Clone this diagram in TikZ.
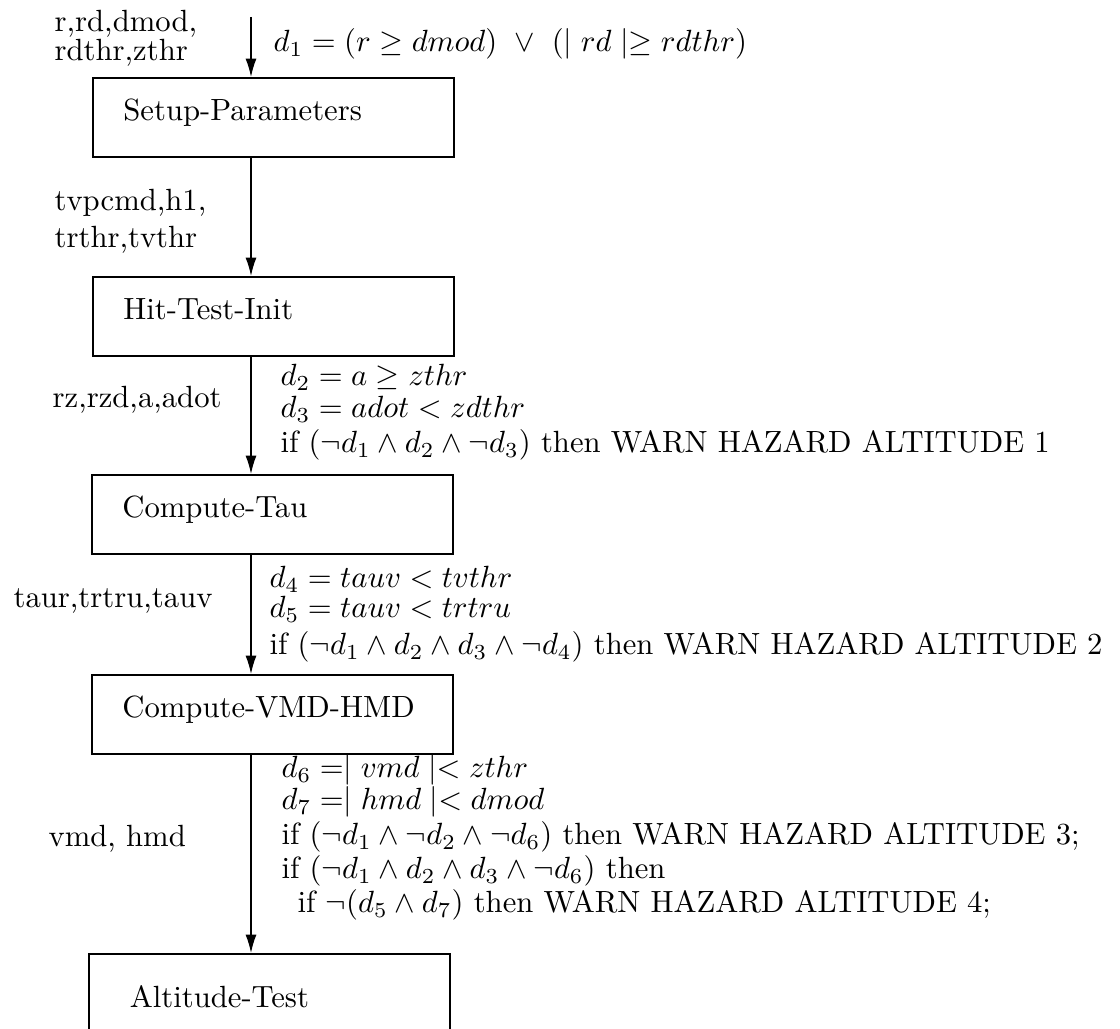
\documentclass[tikz,border=0pt]{standalone}
\usepackage{amsmath, amssymb}
\usetikzlibrary{arrows.meta}

\begin{document}
\begin{tikzpicture}[x=0.326pt, y=-0.326pt, >={Latex[length=6pt,width=3.6pt]},
    box/.style={draw, line width=0.5pt, anchor=north west, inner xsep=10pt, inner ysep=0pt,
        text width=97.7pt, align=left, minimum height=25.8pt, text height=6.2pt, text depth=4pt},
    lbl/.style={anchor=base west, inner sep=0pt, text height=6.5pt, text depth=1.5pt}]
\useasboundingbox (0,0) rectangle (1120,1029);
\clip (0,0) rectangle (1120,1029);

% Modules
\node[box] (setup) at (92,77) {Setup-Parameters};
\node[box] (hit) at (92,276) {Hit-Test-Init};
\node[box] (tau) at (91,474) {Compute-Tau};
\node[box] (vmd) at (91,674) {Compute-VMD-HMD};
\node[box, minimum height=33pt, inner xsep=13.4pt, text width=91pt] (alt) at (88,953) {Altitude-Test};

% Data flow
\coordinate (in) at (251,17);
\draw[->, line width=0.45pt] (in) -- (in |- setup.north);
\draw[->, line width=0.45pt] (in |- setup.south) -- (in |- hit.north);
\draw[->, line width=0.45pt] (in |- hit.south) -- (in |- tau.north);
\draw[->, line width=0.45pt] (in |- tau.south) -- (in |- vmd.north);
\draw[->, line width=0.45pt] (in |- vmd.south) -- (in |- alt.north);

% Variables passed along
\node[lbl] (v1a) at (54,32) {r,rd,dmod,};
\node[lbl] (v1b) at (54,61) {rdthr,zthr};
\node[lbl] (v2a) at (54,211) {tvpcmd,h1,};
\node[lbl] (v2b) at (54,248) {trthr,tvthr};
\node[lbl] (v3) at (52,408) {rz,rzd,a,adot};
\node[lbl] (v4) at (13,608) {taur,trtru,tauv};
\node[lbl] (v5) at (48,847) {vmd, hmd};

% Conditions
\node[lbl] (c1) at (273,52) {$d_1 = (r \geq dmod)\ \vee\ (\mid rd \mid\geq rdthr)$};
\node[lbl] (c2) at (280,386) {$d_2 = a \geq zthr$};
\node[lbl] (c3) at (280,418) {$d_3 = adot < zdthr$};
\node[lbl] (w1) at (280,453) {if $(\neg d_1 \wedge d_2 \wedge \neg d_3)$ then WARN HAZARD ALTITUDE 1};
\node[lbl] (c4) at (269,588) {$d_4 = tauv < tvthr$};
\node[lbl] (c5) at (269,618) {$d_5 = tauv < trtru$};
\node[lbl] (w2) at (269,655) {if $(\neg d_1 \wedge d_2 \wedge d_3 \wedge \neg d_4)$ then WARN HAZARD ALTITUDE 2};
\node[lbl] (c6) at (281,778) {$d_6 =\mid vmd \mid< zthr$};
\node[lbl] (c7) at (281,810) {$d_7 =\mid hmd \mid< dmod$};
\node[lbl] (w3) at (281,845) {if $(\neg d_1 \wedge \neg d_2 \wedge \neg d_6)$ then WARN HAZARD ALTITUDE 3;};
\node[lbl] (w4) at (281,879) {if $(\neg d_1 \wedge d_2 \wedge d_3 \wedge \neg d_6)$ then};
\node[lbl] (w5) at (297,913) {if $\neg(d_5 \wedge d_7)$ then WARN HAZARD ALTITUDE 4;};
\end{tikzpicture}
\end{document}
